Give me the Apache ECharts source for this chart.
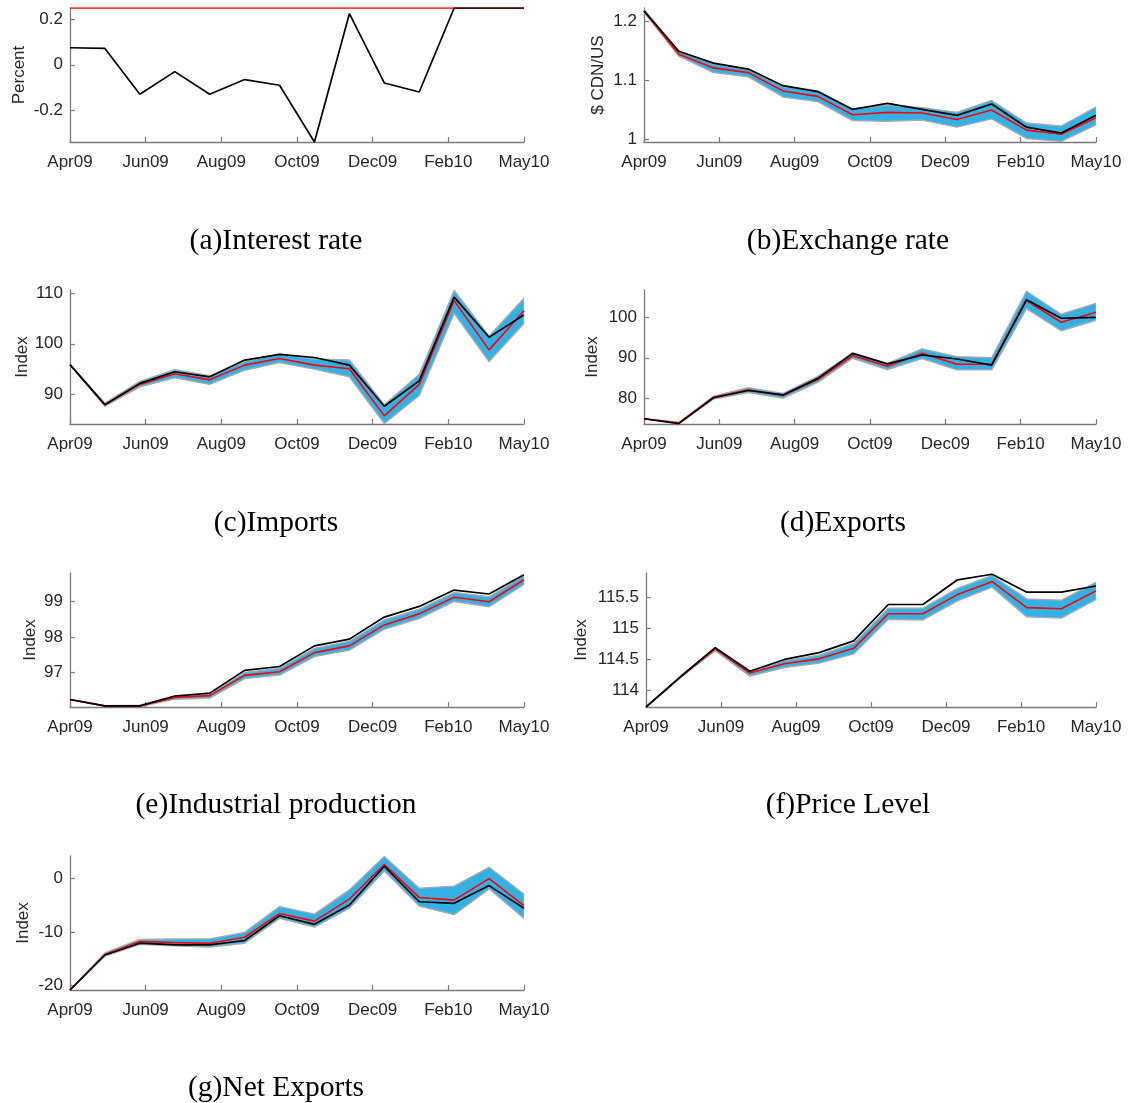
<!DOCTYPE html>
<html>
<head>
<meta charset="utf-8">
<script src="https://cdn.jsdelivr.net/npm/echarts@6/dist/echarts.min.js"></script>
<style>
html,body{margin:0;padding:0;background:#fff;}
#chart{width:1128px;height:1103px;}
</style>
</head>
<body>
<div id="chart"></div>
<script>
// ---- data ----
const months = ['Apr09','May09','Jun09','Jul09','Aug09','Sep09','Oct09','Nov09','Dec09','Jan10','Feb10','Mar10','Apr10','May10'];
const xTickLabels = ['Apr09','Jun09','Aug09','Oct09','Dec09','Feb10','May10'];

const rateActual   = [0.075, 0.072, -0.13, -0.03, -0.13, -0.065, -0.09, -0.34, 0.225, -0.08, -0.12, 0.25, 0.25, 0.25];
const rateForecast = [0.25, 0.25, 0.25, 0.25, 0.25, 0.25, 0.25, 0.25, 0.25, 0.25, 0.25, 0.25, 0.25, 0.25];

const fxActual   = [1.217, 1.149, 1.129, 1.119, 1.091, 1.081, 1.051, 1.061, 1.051, 1.041, 1.060, 1.021, 1.011, 1.041];
const fxForecast = [1.217, 1.144, 1.121, 1.113, 1.082, 1.073, 1.042, 1.046, 1.045, 1.034, 1.050, 1.016, 1.009, 1.037];
const fxUpper    = [1.220, 1.149, 1.128, 1.118, 1.090, 1.082, 1.052, 1.058, 1.054, 1.046, 1.066, 1.028, 1.023, 1.055];
const fxLower    = [1.215, 1.141, 1.113, 1.106, 1.072, 1.064, 1.032, 1.031, 1.033, 1.021, 1.035, 1.002, 0.997, 1.025];

const impActual   = [95.9, 88.0, 92.2, 94.5, 93.5, 96.8, 97.9, 97.3, 95.8, 87.7, 92.7, 109.2, 101.3, 105.7];
const impForecast = [95.9, 88.0, 92.0, 94.1, 92.9, 95.8, 97.1, 95.8, 95.1, 85.8, 92.0, 108.5, 98.8, 106.5];
const impUpper    = [95.9, 88.3, 92.6, 94.9, 93.7, 96.5, 98.0, 97.0, 96.8, 88.0, 94.0, 110.5, 101.5, 109.0];
const impLower    = [95.9, 87.7, 91.5, 93.3, 92.0, 94.8, 96.3, 95.0, 93.5, 84.3, 89.8, 106.0, 96.5, 104.0];

const expActual   = [74.9, 73.7, 80.1, 81.9, 80.8, 84.9, 91.1, 88.5, 90.7, 89.7, 88.2, 104.4, 99.8, 100.0];
const expForecast = [74.9, 73.9, 80.2, 82.1, 80.7, 84.6, 90.5, 87.9, 91.1, 88.4, 88.4, 104.2, 98.8, 101.3];
const expUpper    = [74.9, 73.9, 80.5, 82.6, 81.2, 85.4, 91.2, 88.6, 92.2, 90.3, 90.0, 106.5, 100.8, 103.5];
const expLower    = [74.9, 73.7, 79.8, 81.4, 80.0, 83.9, 89.9, 87.1, 89.8, 87.0, 87.0, 102.2, 96.7, 99.3];

const ipActual   = [96.24, 96.06, 96.06, 96.34, 96.42, 97.06, 97.17, 97.75, 97.94, 98.56, 98.86, 99.32, 99.21, 99.75];
const ipForecast = [96.24, 96.06, 96.06, 96.30, 96.35, 96.92, 97.02, 97.56, 97.75, 98.34, 98.65, 99.12, 98.99, 99.61];
const ipUpper    = [96.24, 96.07, 96.08, 96.33, 96.40, 97.00, 97.12, 97.68, 97.88, 98.48, 98.78, 99.25, 99.13, 99.72];
const ipLower    = [96.24, 96.05, 96.04, 96.25, 96.28, 96.83, 96.93, 97.45, 97.63, 98.22, 98.52, 99.00, 98.85, 99.48];

const plActual   = [113.73, 114.22, 114.69, 114.31, 114.50, 114.61, 114.80, 115.39, 115.39, 115.79, 115.88, 115.59, 115.59, 115.69];
const plForecast = [113.73, 114.22, 114.67, 114.28, 114.43, 114.51, 114.68, 115.24, 115.24, 115.55, 115.76, 115.34, 115.32, 115.61];
const plUpper    = [113.73, 114.23, 114.69, 114.30, 114.48, 114.57, 114.76, 115.33, 115.33, 115.65, 115.86, 115.48, 115.46, 115.75];
const plLower    = [113.73, 114.21, 114.64, 114.23, 114.37, 114.44, 114.59, 115.15, 115.14, 115.45, 115.67, 115.19, 115.17, 115.47];

const nxActual   = [-20.8, -14.3, -12.1, -12.4, -12.4, -11.6, -7.0, -8.6, -5.0, 2.2, -4.4, -4.7, -1.4, -5.6];
const nxForecast = [-20.8, -14.2, -11.8, -12.0, -12.1, -11.0, -6.6, -8.0, -3.9, 2.5, -3.6, -4.1, -0.1, -5.1];
const nxUpper    = [-20.8, -13.9, -11.4, -11.3, -11.3, -10.1, -5.3, -6.7, -2.2, 4.0, -1.9, -1.5, 2.0, -3.0];
const nxLower    = [-20.8, -14.5, -12.3, -12.6, -12.8, -12.1, -7.5, -9.1, -5.6, 1.3, -5.2, -6.8, -2.0, -7.5];

const captions = ['(a)Interest rate','(b)Exchange rate','(c)Imports','(d)Exports','(e)Industrial production','(f)Price Level','(g)Net Exports'];
const yNames = ['Percent','$ CDN/US','Index','Index','Index','Index','Index'];
const yTicks = [[-0.2,0,0.2],[1,1.1,1.2],[90,100,110],[80,90,100],[97,98,99],[114,114.5,115,115.5],[-20,-10,0]];
const yRanges = [[-0.34,0.25],[0.996,1.222],[84.2,110.6],[73.6,106.8],[96.03,99.8],[113.73,115.9],[-20.8,4.1]];

// ---- layout / style ----
const panels = [
  {act: rateActual, fc: rateForecast, up: null, lo: null, left: 70, top: 8, width: 454, gap: 42, capX: 276, capY: 241},
  {act: fxActual, fc: fxForecast, up: fxUpper, lo: fxLower, left: 644, top: 8, width: 452, gap: 37, capX: 848, capY: 241},
  {act: impActual, fc: impForecast, up: impUpper, lo: impLower, left: 70, top: 290, width: 454, gap: 39, capX: 276, capY: 523},
  {act: expActual, fc: expForecast, up: expUpper, lo: expLower, left: 644, top: 290, width: 452, gap: 43, capX: 843, capY: 523},
  {act: ipActual, fc: ipForecast, up: ipUpper, lo: ipLower, left: 70, top: 573, width: 454, gap: 31, capX: 276, capY: 805},
  {act: plActual, fc: plForecast, up: plUpper, lo: plLower, left: 646, top: 573, width: 450, gap: 56, capX: 848, capY: 805},
  {act: nxActual, fc: nxForecast, up: nxUpper, lo: nxLower, left: 70, top: 856, width: 454, gap: 38, capX: 276, capY: 1088}
];
const H = 134;
const axisGrey = '#7a7a7a';
const textCol = '#262626';
const bandBlue = '#34b1e4';
const nInt = months.length - 1;
const xTickVals = xTickLabels.map((_, k) => k * nInt / (xTickLabels.length - 1));

const grid = [], xAxis = [], yAxis = [], series = [], graphic = [];
panels.forEach((p, i) => {
  grid.push({left: p.left, top: p.top, width: p.width, height: H, containLabel: false});
  xAxis.push({
    type: 'value', gridIndex: i, min: 0, max: nInt,
    axisLine: {show: true, onZero: false, lineStyle: {color: axisGrey, width: 1.3}},
    axisTick: {show: true, inside: true, length: 5, lineStyle: {color: axisGrey, width: 1.2}, customValues: xTickVals},
    axisLabel: {show: true, margin: 12, fontSize: 17, color: textCol, fontFamily: 'Liberation Sans',
      customValues: xTickVals,
      formatter: v => xTickLabels[Math.round(v * (xTickLabels.length - 1) / nInt)]},
    splitLine: {show: false}
  });
  yAxis.push({
    type: 'value', gridIndex: i, min: yRanges[i][0], max: yRanges[i][1],
    name: yNames[i], nameLocation: 'middle', nameGap: p.gap,
    nameTextStyle: {fontSize: 17, color: textCol, fontFamily: 'Liberation Sans'},
    axisLine: {show: true, onZero: false, lineStyle: {color: axisGrey, width: 1.3}},
    axisTick: {show: true, inside: true, length: 5, lineStyle: {color: axisGrey, width: 1.2}, customValues: yTicks[i]},
    axisLabel: {show: true, margin: 7, fontSize: 17, color: textCol, fontFamily: 'Liberation Sans', customValues: yTicks[i]},
    splitLine: {show: false}
  });
  if (p.up) {
    const up = p.up, lo = p.lo;
    series.push({
      type: 'custom', xAxisIndex: i, yAxisIndex: i, silent: true, clip: true, z: 1,
      data: lo.map((v, k) => [k, v, up[k]]),
      encode: {x: 0, y: [1, 2]},
      renderItem: function (params, api) {
        if (params.dataIndex !== 0) return null;
        const pts = [];
        for (let k = 0; k < up.length; k++) pts.push(api.coord([k, up[k]]));
        for (let k = lo.length - 1; k >= 0; k--) pts.push(api.coord([k, lo[k]]));
        return {type: 'polygon', shape: {points: pts},
          style: {fill: bandBlue, stroke: '#a3abae', lineWidth: 1.4, lineJoin: 'round'}};
      }
    });
  }
  series.push({
    type: 'line', xAxisIndex: i, yAxisIndex: i, z: 3, symbol: 'none', silent: true,
    data: p.fc.map((v, k) => [k, v]),
    lineStyle: {color: '#ff0000', width: 1.6}
  });
  series.push({
    type: 'line', xAxisIndex: i, yAxisIndex: i, z: 4, symbol: 'none', silent: true,
    data: p.act.map((v, k) => [k, v]),
    lineStyle: {color: '#000000', width: 1.7}
  });
  graphic.push({
    type: 'text', x: p.capX, y: p.capY, silent: true,
    style: {text: captions[i], fontFamily: 'Liberation Serif', fontSize: 29.5, fill: '#000',
      textAlign: 'center', textVerticalAlign: 'middle'}
  });
});

const chart = echarts.init(document.getElementById('chart'), null, {renderer: 'canvas'});
chart.setOption({animation: false, backgroundColor: '#fff', grid, xAxis, yAxis, series, graphic});
</script>
</body>
</html>
